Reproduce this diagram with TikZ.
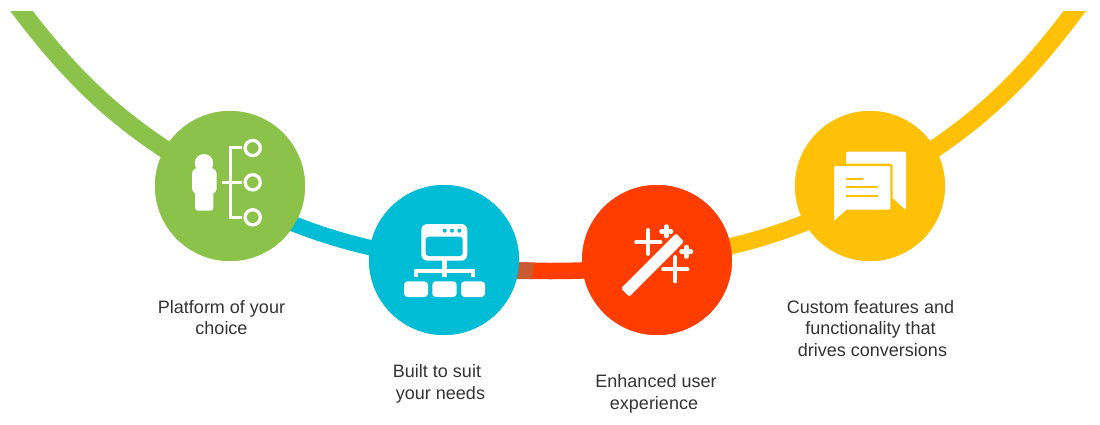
\documentclass[tikz,border=0pt]{standalone}
\usepackage{fontspec}
\setmainfont{Liberation Sans}
\definecolor{leaf}{HTML}{8BC34A}
\definecolor{sky}{HTML}{00BCD4}
\definecolor{flame}{HTML}{FF3D00}
\definecolor{amber}{HTML}{FFC107}
\definecolor{rust}{HTML}{C95B33}
\definecolor{inktext}{HTML}{333333}
\tikzset{
  x=1pt,y=-1pt,
  hub/.style={circle,minimum size=150pt,inner sep=0pt,fill=#1},
  caption/.style={align=center,anchor=base,font=\fontsize{18}{21.3}\selectfont,text=inktext,inner sep=0pt},
  wire/.style={draw=white,line width=2.8pt},
  plus/.style={draw=white,line width=3.8pt,line cap=round},
  solidwhite/.style={fill=white,draw=none},
}
\begin{document}
\begin{tikzpicture}
\useasboundingbox (0,0) rectangle (1100,424);
% hub positions
\node[hub=leaf]  (platform) at (230,186) {};
\node[hub=sky]   (built)    at (444,260) {};
\node[hub=flame] (enhanced) at (657,260) {};
\node[hub=amber] (custom)   at (870,186) {};
\coordinate (leftend)  at (11,-3);
\coordinate (rightend) at (1085,-3);

% bands of the sweep, trimmed along the top edge
\begin{scope}
\clip (0,11) rectangle (1100,424);
\draw[leaf,line width=18pt] (leftend) to[bend right=12.5] ([yshift=-2pt]platform.center);
\draw[amber,line width=18pt] ([yshift=-2pt]custom.center) to[bend right=12.5] (rightend);
\end{scope}
\draw[sky,line width=15.5pt] ([yshift=-10pt]platform.center) to[bend right=8.7] ([yshift=-1pt]built.center);
\draw[flame,line width=16.5pt] ([yshift=-6pt]built.center) to[bend right=4.6] ([yshift=-6pt]enhanced.center);
\draw[amber,line width=16.5pt] (enhanced.center) to[bend right=8.7] ([yshift=-8pt]custom.center);
\fill[rust] (517,262.3) -- (534,262.3) -- (532,279) -- (517,279) -- cycle;

% hubs again, above the bands
\node[hub=leaf]  at (platform) {};
\node[hub=sky]   at (built) {};
\node[hub=flame] at (enhanced) {};
\node[hub=amber] at (custom) {};

% person with three branches
\fill[solidwhite] (204,163.3) circle[radius=9.3];
\fill[solidwhite,rounded corners=6pt] (192,168) rectangle (216.7,194);
\fill[solidwhite,rounded corners=3pt] (195,184) rectangle (213.3,210.7);
\draw[wire] (241.7,147.3) -- (230.7,147.3) -- (230.7,217.7) -- (241.7,217.7);
\draw[wire] (222.3,182.7) -- (241.7,182.7);
\foreach \yy in {148,182.3,217.3}
  \draw[draw=white,line width=3.3pt] (252.7,\yy) circle[radius=7.6];

% browser window above a small tree
\fill[solidwhite,rounded corners=6pt] (421.3,224) rectangle (467.3,260.7);
\fill[sky,rounded corners=3pt] (425.7,236.7) rectangle (462.7,256);
\foreach \xx in {444.7,452,459.3}
  \fill[sky] (\xx,230.7) circle[radius=2];
\fill[solidwhite] (442,260) rectangle (446.6,277);
\fill[solidwhite] (414,269.3) rectangle (475,273.3);
\fill[solidwhite] (414,269.3) rectangle (418,277.3);
\fill[solidwhite] (471,269.3) rectangle (475,277.3);
\foreach \xa/\xb in {404/428,432.3/456.7,461/485}
  \fill[solidwhite,rounded corners=3.5pt] (\xa,281.3) rectangle (\xb,297);

% wand and sparkles
\fill[solidwhite,rounded corners=1.5pt] (621,288.3) -- (676,233.3) -- (684,241.7) -- (629.3,296.7) -- cycle;
\draw[plus] (636,242) -- (660.6,242) (648.3,230) -- (648.3,254);
\draw[plus,line width=4.5pt] (661.5,231.3) -- (671,231.3) (666.3,226.5) -- (666.3,236);
\draw[plus,line width=4.5pt] (681.5,251.7) -- (691,251.7) (686.3,247) -- (686.3,256.5);
\draw[plus] (663,269.3) -- (687.5,269.3) (675.3,257) -- (675.3,281.5);

% pair of speech bubbles
\fill[solidwhite,rounded corners=1.5pt] (846,151.7) -- (906,151.7) -- (906,210) -- (892.7,198) -- (846,198) -- cycle;
\filldraw[fill=white,draw=amber,line width=2.4pt,rounded corners=1.5pt]
  (832.8,164.8) -- (891.5,164.8) -- (891.5,210.9) -- (846,210.9) -- (832.8,223) -- cycle;
\fill[solidwhite] (834,210) -- (846,210) -- (834,220.7) -- cycle;
\draw[amber,line width=1.7pt] (846,178.7) -- (862.7,178.7) (846,187.3) -- (878.3,187.3) (846,195.7) -- (878.3,195.7);

% captions
\node[caption] (capa) at (221.5,334.3) {Platform of your\\choice};
\node[caption] (capb) at (437,399) {Built to suit\\\hspace*{7pt}your needs};
\node[caption] (capc) at (656,409) {Enhanced user\\\hspace*{-4pt}experience};
\node[caption] (capd) at (870.5,356) {Custom features and\\functionality that\\\hspace*{4pt}drives conversions};
\end{tikzpicture}
\end{document}
